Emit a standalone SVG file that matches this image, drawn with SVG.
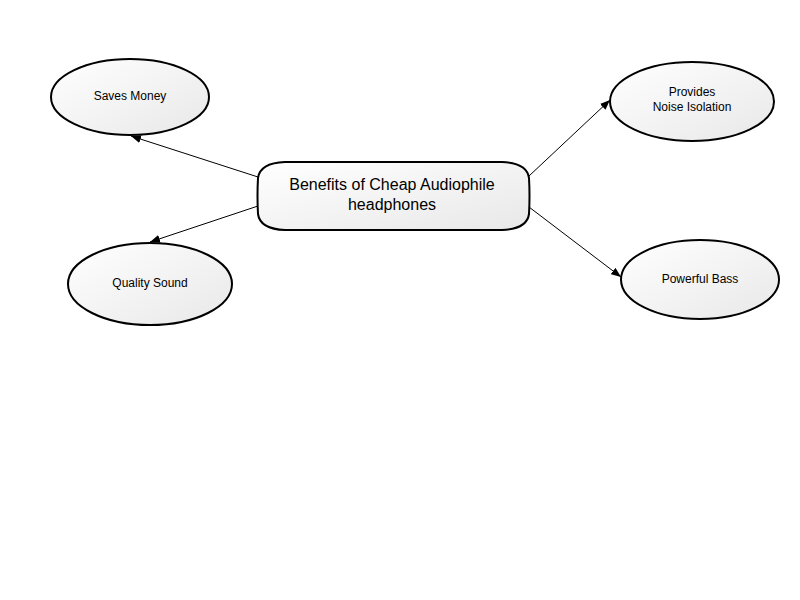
<svg xmlns="http://www.w3.org/2000/svg" width="800" height="600" viewBox="0 0 800 600">
<defs>
<linearGradient id="g" x1="0" y1="0" x2="1" y2="1">
<stop offset="0" stop-color="#ffffff"/>
<stop offset="1" stop-color="#e8e8e8"/>
</linearGradient>
<marker id="arr" markerWidth="10" markerHeight="8" refX="10" refY="4" orient="auto" markerUnits="userSpaceOnUse">
<path d="M0,0 L10,4 L0,8 z" fill="#000"/>
</marker>
<style>
.n{fill:url(#g);stroke:#000;stroke-width:2}
.t{font-family:"Liberation Sans",Arial,sans-serif;font-size:12px;fill:#000;text-anchor:middle}
.tc{font-family:"Liberation Sans",Arial,sans-serif;font-size:16px;fill:#000;text-anchor:middle}
.c{stroke:#000;stroke-width:1;fill:none;marker-end:url(#arr)}
</style>
</defs>
<rect width="800" height="600" fill="#fff"/>
<g id="connectors">
<line class="c" x1="258" y1="177" x2="131" y2="136"/>
<line class="c" x1="258" y1="206" x2="150" y2="242"/>
<line class="c" x1="529" y1="176" x2="610" y2="100"/>
<line class="c" x1="529" y1="207" x2="621" y2="277"/>
</g>
<g id="center">
<path class="n" d="M285,162 L502,162 Q527,163 529,178 Q530,196 529,214 Q527,229 502,230 L285,230 Q260,229 258,214 Q257,196 258,178 Q260,163 285,162 Z"/>
<text class="tc" x="392" y="190">Benefits of Cheap Audiophile</text>
<text class="tc" x="392" y="210">headphones</text>
</g>
<g id="saves-money">
<ellipse class="n" cx="130" cy="97" rx="79" ry="38"/>
<text class="t" x="130" y="100">Saves Money</text>
</g>
<g id="quality-sound">
<ellipse class="n" cx="150" cy="284" rx="82" ry="41"/>
<text class="t" x="150" y="287">Quality Sound</text>
</g>
<g id="noise-isolation">
<ellipse class="n" cx="692" cy="101.5" rx="82" ry="39.5"/>
<text class="t" x="692" y="96">Provides</text>
<text class="t" x="692" y="111">Noise Isolation</text>
</g>
<g id="powerful-bass">
<ellipse class="n" cx="700" cy="279.5" rx="79" ry="39.5"/>
<text class="t" x="700" y="283">Powerful Bass</text>
</g>
</svg>
